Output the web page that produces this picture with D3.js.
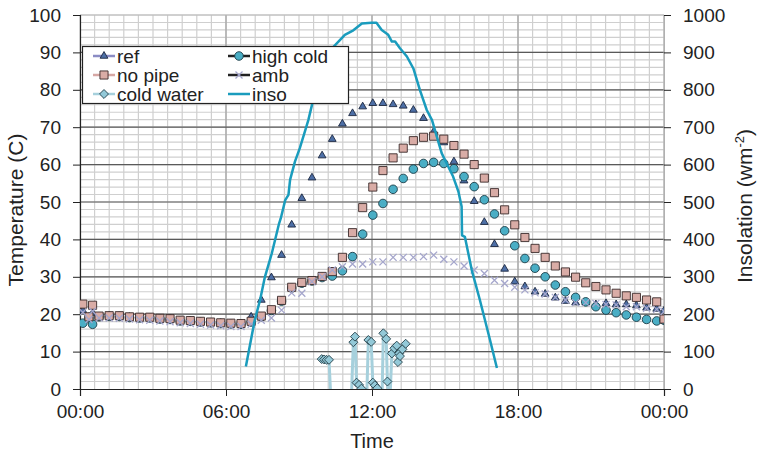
<!DOCTYPE html>
<html>
<head>
<meta charset="utf-8">
<script src="https://cdn.jsdelivr.net/npm/d3@7"></script>
<style>
  body { margin: 0; background: #fff; }
  #chart { width: 757px; height: 454px; }
  text { font-family: "Liberation Sans", Arial, sans-serif; fill: #222; }
</style>
</head>
<body>
<div id="chart"></div>
<script>
// sample times (hh:mm) shared by the marker series
const times = ["00:07","00:22","00:31","00:47","01:12","01:37","02:02","02:27","02:52","03:17",
  "03:42","04:07","04:32","04:57","05:22","05:47","06:12","06:37","07:02","07:27",
  "07:52","08:17","08:42","09:07","09:32","09:57","10:22","10:47","11:12","11:37",
  "12:02","12:27","12:52","13:17","13:42","14:07","14:32","14:57","15:22","15:47",
  "16:12","16:37","17:02","17:27","17:52","18:17","18:42","19:07","19:32","19:57",
  "20:22","20:47","21:12","21:37","22:02","22:27","22:52","23:17","23:42","24:00"];

const ref = [21.0,19.2,20.3,19.4,19.5,19.4,19.2,19.1,19.1,18.8,18.7,18.3,18.2,18.0,17.8,17.6,17.5,17.4,19.3,
  23.8,29.8,35.8,43.9,51.0,56.5,62.4,66.8,70.9,73.7,75.5,76.4,76.4,76.1,75.7,74.6,72.4,68.8,65.9,60.8,
  55.7,50.2,44.6,38.7,32.1,28.7,27.4,26.0,25.4,24.4,23.5,23.1,23.1,22.6,22.9,22.6,22.6,22.3,21.7,21.4,20.9];

const noPipe = [22.7,19.3,22.4,19.5,19.6,19.6,19.3,19.2,19.2,18.9,18.8,18.4,18.3,18.1,17.9,17.7,17.6,17.5,18.1,
  19.5,21.2,23.7,27.2,28.5,29.0,30.1,31.4,35.2,41.8,48.5,54.0,58.4,61.8,64.4,66.4,67.3,67.6,66.8,65.1,
  62.8,60.0,56.4,52.5,47.9,43.9,40.5,37.6,35.2,32.9,31.3,29.9,28.4,27.4,26.5,25.6,24.9,24.5,23.8,23.3,18.7];

const highCold = [17.6,19.0,17.3,19.3,19.4,19.4,19.1,19.0,19.0,18.7,18.6,18.2,18.1,17.9,17.7,17.5,17.4,17.3,17.9,
  19.3,21.0,23.5,27.0,28.3,28.9,29.8,30.2,31.6,35.4,41.4,46.5,49.6,53.4,56.3,58.8,60.3,60.6,60.3,58.9,
  56.8,54.1,50.6,46.8,42.3,38.3,34.9,32.3,30.0,27.8,26.0,24.5,23.3,22.0,21.1,20.4,19.8,19.2,18.6,18.2,18.4];

const amb = [20.5,18.6,20.8,19.0,19.0,18.9,18.7,18.5,18.4,18.2,18.0,17.7,17.5,17.3,17.1,16.9,16.7,16.7,17.3,
  18.4,19.0,21.1,25.7,25.6,28.7,30.0,31.8,32.7,33.4,33.4,34.0,34.0,35.2,35.2,35.2,35.4,35.8,34.7,34.0,
  32.9,31.8,30.9,29.1,28.2,27.2,26.5,25.7,25.4,24.5,23.8,23.1,23.1,22.9,22.6,22.5,22.0,22.0,21.6,21.3,20.7];

// cold water logged at its own times; negative readings fall below the axis
const coldTimes = ["09:56","10:02","10:08","10:14","10:20","11:08","11:14","11:18","11:22","11:28",
  "11:34","11:40","11:46","11:51","11:58","12:02","12:07","12:13","12:19","12:24",
  "12:28","12:35","12:38","12:43","12:49","12:55","13:01","13:04","13:07","13:09","13:15","13:23"];
const coldWater = [8.0,7.9,7.8,7.8,-6,-6,12.5,14.0,1.7,1.1,
  0.1,-6,-6,13.1,12.6,1.7,1.0,0.2,-6,-6,
  14.9,13.4,2.0,-6,9.5,10.9,11.6,7.2,9.5,8.8,10.6,12.1];

// insolation trace (W/m2)
const insoTimes = ["06:49","07:11","07:24","07:36","07:53","08:11","08:15","08:26","08:34","08:38",
  "08:50","09:02","09:15","09:23","09:35","10:00","10:25","10:53","11:14","11:35",
  "11:59","12:11","12:24","12:40","12:49","12:57","13:09","13:26","13:42","13:58",
  "14:15","14:28","14:40","14:52","15:20","15:33","15:41","15:42","15:49","16:06",
  "16:26","16:51","17:08"];
const inso = [60,185,238,300,363,443,456,505,519,559,
  608,644,690,719,773,853,915,947,959,977,
  979,979,960,947,929,929,911,889,857,800,
  746,719,674,630,568,528,488,411,407,318,
  238,131,56];

const timeTicks = [0, 6, 12, 18, 24];
const timeLabels = ["00:00", "06:00", "12:00", "18:00", "00:00"];
const tempTicks = [0,10,20,30,40,50,60,70,80,90,100];
const insoTicks = [0,100,200,300,400,500,600,700,800,900,1000];

const legendNames = ["ref", "high cold", "no pipe", "amb", "cold water", "inso"];

const toHours = s => { const [h, m] = s.split(":").map(Number); return h + m / 60; };

const style = {
  "ref":        { shape: "tri",     fill: "#4d6fa6", stroke: "#1c2740", line: "#8b8cc4" },
  "no pipe":    { shape: "square",  fill: "#d9aca6", stroke: "#3a2a2a", line: "#d6a7a4" },
  "cold water": { shape: "diamond", fill: "#93c9d8", stroke: "#2a4650", line: "#a6d0dc" },
  "high cold":  { shape: "circle",  fill: "#4aaec5", stroke: "#1c3c46", line: "#222" },
  "amb":        { shape: "x",       fill: "none",    stroke: "#a5a6cc", line: "#222" },
  "inso":       { shape: null,      fill: "none",    stroke: "#1a9cbd", line: "#1a9cbd" }
};

function markerPath(shape) {
  if (shape === "tri") return d3.symbol(d3.symbolTriangle, 26)();
  if (shape === "square") return d3.symbol(d3.symbolSquare, 66)();
  if (shape === "circle") return d3.symbol(d3.symbolCircle, 58)();
  if (shape === "diamond") return d3.symbol(d3.symbolSquare, 40)();
  if (shape === "x") return "M-3.5,-3.5L3.5,3.5M-3.5,3.5L3.5,-3.5";
  return null;
}

function draw() {
  const W = 757, H = 454;
  const left = 80, right = 664, top = 15, bottom = 389;

  const svg = d3.select("#chart").append("svg")
    .attr("width", W).attr("height", H);

  const x = d3.scaleLinear().domain([0, 24]).range([left, right]);
  const y = d3.scaleLinear().domain([0, 100]).range([bottom, top]);
  const y2 = d3.scaleLinear().domain([0, 1000]).range([bottom, top]);

  // grid
  const grid = svg.append("g");
  grid.selectAll(".vmin").data(d3.range(0, 24.001, 0.6)).join("line")
    .attr("x1", d => x(d)).attr("x2", d => x(d)).attr("y1", top).attr("y2", bottom)
    .attr("stroke", "#cfcfcf").attr("stroke-width", 1.2);
  grid.selectAll(".hmin").data(d3.range(2, 100.001, 2)).join("line")
    .attr("x1", left).attr("x2", right).attr("y1", d => y(d)).attr("y2", d => y(d))
    .attr("stroke", "#cfcfcf").attr("stroke-width", 1.2);
  grid.selectAll(".vmaj").data([6, 12, 18]).join("line")
    .attr("x1", d => x(d)).attr("x2", d => x(d)).attr("y1", top).attr("y2", bottom)
    .attr("stroke", "#a0a0a0").attr("stroke-width", 1.2);
  grid.selectAll(".hmaj").data(tempTicks.slice(1, -1)).join("line")
    .attr("x1", left).attr("x2", right).attr("y1", d => y(d)).attr("y2", d => y(d))
    .attr("stroke", "#5a5a5a").attr("stroke-width", 1.2);
  grid.append("line").attr("x1", left).attr("x2", right).attr("y1", top).attr("y2", top)
    .attr("stroke", "#b8b8b8");
  grid.append("line").attr("x1", right).attr("x2", right).attr("y1", top).attr("y2", bottom)
    .attr("stroke", "#a8a8a8");

  // axes
  const axL = svg.append("g").attr("transform", `translate(${left},0)`)
    .call(d3.axisLeft(y).tickValues(tempTicks).tickSize(7).tickPadding(12));
  const axR = svg.append("g").attr("transform", `translate(${right},0)`)
    .call(d3.axisRight(y2).tickValues(insoTicks).tickFormat(d3.format("d")).tickSize(7).tickPadding(12));
  const axB = svg.append("g").attr("transform", `translate(0,${bottom})`)
    .call(d3.axisBottom(x).tickValues(timeTicks).tickFormat((d, i) => timeLabels[i])
      .tickSize(7).tickPadding(9));
  [axL, axR, axB].forEach(a => {
    a.selectAll("text").style("font-size", "19px").attr("fill", "#222");
    a.selectAll("line").attr("stroke", "#222");
  });
  axL.select(".domain").attr("stroke", "#222").attr("stroke-width", 1.2);
  axB.select(".domain").attr("stroke", "#222").attr("stroke-width", 1.2);
  axR.select(".domain").attr("stroke", "#b0b0b0");

  svg.append("text").attr("x", x(12)).attr("y", 448).attr("text-anchor", "middle")
    .style("font-size", "20px").text("Time");
  svg.append("text").attr("transform", `translate(23,${(top + bottom) / 2 + 8}) rotate(-90)`)
    .attr("text-anchor", "middle").style("font-size", "21px").text("Temperature (C)");
  const rt = svg.append("text").attr("transform", `translate(752,${(top + bottom) / 2 + 4}) rotate(-90)`)
    .attr("text-anchor", "middle").style("font-size", "21px");
  rt.append("tspan").text("Insolation (wm");
  rt.append("tspan").attr("dy", -8).style("font-size", "13px").text("-2");
  rt.append("tspan").attr("dy", 8).text(")");

  // plot clip
  svg.append("clipPath").attr("id", "plotclip").append("rect")
    .attr("x", left).attr("y", top - 6).attr("width", right - left).attr("height", bottom - top + 6);
  const plot = svg.append("g").attr("clip-path", "url(#plotclip)");

  const series = [
    { name: "ref", t: times, v: ref },
    { name: "high cold", t: times, v: highCold },
    { name: "no pipe", t: times, v: noPipe },
    { name: "amb", t: times, v: amb },
  ];

  function drawMarkers(g, name, pts, scaleY) {
    const st = style[name];
    g.selectAll(null).data(pts).join("path")
      .attr("d", markerPath(st.shape))
      .attr("transform", d => `translate(${x(d.h)},${scaleY(d.v)})${st.shape === "diamond" ? " rotate(45)" : ""}`)
      .attr("fill", st.fill)
      .attr("stroke", st.stroke)
      .attr("stroke-width", st.shape === "x" ? 1.3 : 0.9);
  }

  series.forEach(s => {
    const pts = s.t.map((t, i) => ({ h: toHours(t), v: s.v[i] }));
    drawMarkers(plot.append("g"), s.name, pts, y);
  });

  // cold water: line + diamonds
  const cw = coldTimes.map((t, i) => ({ h: toHours(t), v: coldWater[i] }));
  plot.append("path").datum(cw)
    .attr("d", d3.line().x(d => x(d.h)).y(d => y(d.v)))
    .attr("fill", "none").attr("stroke", style["cold water"].line).attr("stroke-width", 3);
  drawMarkers(plot.append("g"), "cold water", cw.filter(d => d.v >= 0), y);

  // insolation
  const ins = insoTimes.map((t, i) => ({ h: toHours(t), v: inso[i] }));
  plot.append("path").datum(ins)
    .attr("d", d3.line().x(d => x(d.h)).y(d => y2(d.v)))
    .attr("fill", "none").attr("stroke", style["inso"].line).attr("stroke-width", 2.5)
    .attr("stroke-linejoin", "round");

  // legend
  const lg = svg.append("g");
  lg.append("rect").attr("x", 82.5).attr("y", 46.5).attr("width", 266).attr("height", 57)
    .attr("fill", "#fff").attr("stroke", "#222").attr("stroke-width", 1.2);
  legendNames.forEach((name, i) => {
    const col = i % 2, row = Math.floor(i / 2);
    const lx = col === 0 ? 93 : 228;
    const ly = 56 + row * 19;
    const st = style[name];
    const item = lg.append("g");
    item.append("line").attr("x1", lx).attr("x2", lx + 22).attr("y1", ly).attr("y2", ly)
      .attr("stroke", st.line).attr("stroke-width", 2.5);
    if (st.shape) {
      item.append("path").attr("d", markerPath(st.shape))
        .attr("transform", `translate(${lx + 11},${ly})${st.shape === "diamond" ? " rotate(45)" : ""}`)
        .attr("fill", st.fill).attr("stroke", st.stroke)
        .attr("stroke-width", st.shape === "x" ? 1.3 : 0.9);
    }
    item.append("text").attr("x", lx + 24).attr("y", ly).attr("dy", "0.35em")
      .style("font-size", "19px").text(name);
  });
}

draw();
</script>
</body>
</html>
